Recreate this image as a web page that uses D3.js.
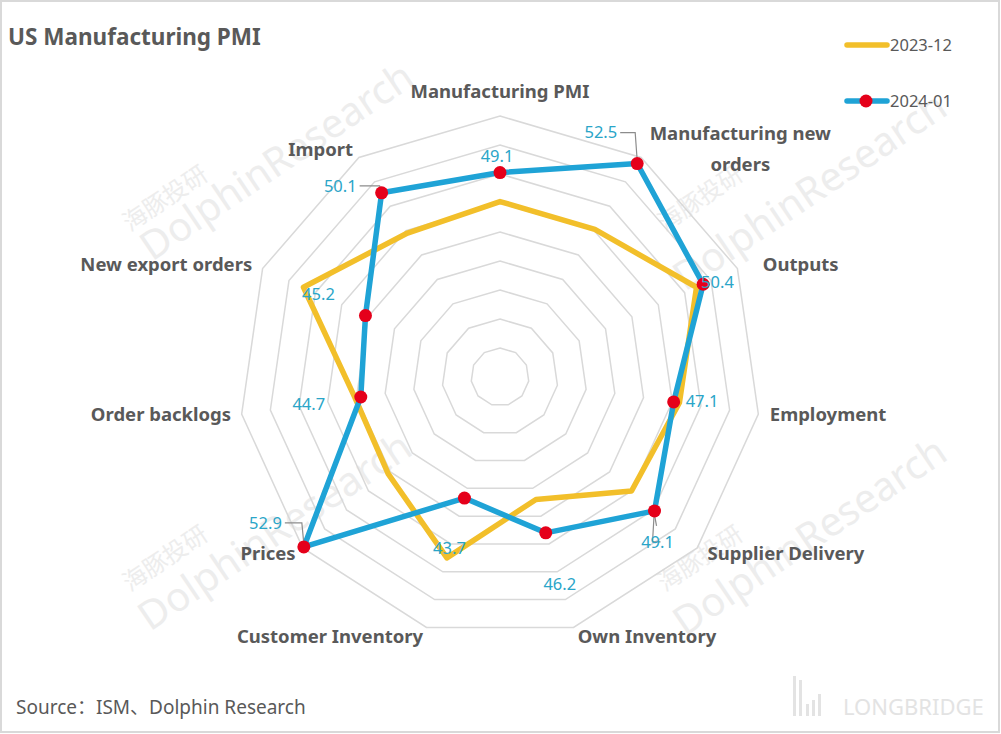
<!DOCTYPE html>
<html>
<head>
<meta charset="utf-8">
<script src="https://cdn.jsdelivr.net/npm/d3@7"></script>
<style>
  body { margin: 0; background: #fff; }
  svg { display: block; }
</style>
</head>
<body>
<svg id="chart" width="1001" height="734"></svg>
<script>
	// categories, clockwise from the top
	var categories = ["Manufacturing PMI", "Manufacturing new orders", "Outputs", "Employment",
		"Supplier Delivery", "Own Inventory", "Customer Inventory", "Prices",
		"Order backlogs", "New export orders", "Import"];
	var dec2023 = [47.1, 47.1, 49.9, 47.5, 47.0, 43.8, 48.0, 45.2, 45.1, 49.9, 46.8];
	var jan2024 = [49.1, 52.5, 50.4, 47.1, 49.1, 46.2, 43.7, 52.9, 44.7, 45.2, 50.1];
	var seriesNames = ["2023-12", "2024-01"];
	var ringTicks = [37, 39, 41, 43, 45, 47, 49, 51, 53];

	// layout only: nudges for category labels and value labels
	var catNudge = [[0, 6], [83, 17], [36, 8], [40, -4], [66, -14], [65, -20],
		[-88, -20], [-12, -14], [-51, -4], [-69, 8], [-22, 17]];
	var valNudge = [[-3, -16, "middle"], [-20, -31, "end"], [-2, -2, "start"], [12, -1, "start"],
		[3, 31, "middle"], [14, 51, "middle"], [-15, 50, "middle"], [-22, -24, "end"],
		[-52, 7, "middle"], [-47, -21, "middle"], [-25, -7, "end"]];
	var leaders = {1: true, 4: true, 7: true, 10: true};

	var svg = d3.select("#chart");
	var cx = 500, cy = 377, R = 261;
	var yellow = "#F2BF2A", blue = "#1FA3D6", red = "#E5001A";
	var fontMain = "'Microsoft YaHei', 'Noto Sans', 'Noto Sans CJK SC', sans-serif";

	// frame
	svg.append("rect")
		.attr("x", 1).attr("y", 1).attr("width", 998).attr("height", 731)
		.attr("fill", "#fff").attr("stroke", "#d9d9d9").attr("stroke-width", 2);

	// watermarks
	var marks = [[130, 232, 152, 262], [665, 232, 685, 292], [130, 592, 150, 632], [665, 592, 685, 637]];
	marks.forEach(function(m) {
		svg.append("text").attr("transform", "translate(" + m[0] + "," + m[1] + ") rotate(-34)")
			.attr("font-family", fontMain).attr("font-size", 24).attr("fill", "#ededed").text("海豚投研");
		svg.append("text").attr("transform", "translate(" + m[2] + "," + m[3] + ") rotate(-34)")
			.attr("font-family", fontMain).attr("font-size", 40).attr("fill", "#ededed").text("DolphinResearch");
	});

	var n = categories.length;
	var angle = function(i) { return i * 2 * Math.PI / n; };
	var r = d3.scaleLinear().domain([35, 53]).range([0, R]);
	var px = function(i, v) { return cx + r(v) * Math.sin(angle(i)); };
	var py = function(i, v) { return cy - r(v) * Math.cos(angle(i)); };

	var g = svg.append("g").attr("transform", "translate(" + cx + "," + cy + ")");

	// grid rings
	var ring = d3.lineRadial().curve(d3.curveLinearClosed);
	g.selectAll("path.ring").data(ringTicks).enter().append("path")
		.attr("class", "ring")
		.attr("d", function(t) { return ring(categories.map(function(c, i) { return [angle(i), r(t)]; })); })
		.attr("fill", "none").attr("stroke", "#d9d9d9").attr("stroke-width", 1.5);

	var line = d3.lineRadial()
		.angle(function(d, i) { return angle(i); })
		.radius(function(d) { return r(d); })
		.curve(d3.curveLinearClosed);

	g.append("path").attr("d", line(dec2023))
		.attr("fill", "none").attr("stroke", yellow).attr("stroke-width", 5.5).attr("stroke-linejoin", "round");
	g.append("path").attr("d", line(jan2024))
		.attr("fill", "none").attr("stroke", blue).attr("stroke-width", 5.5).attr("stroke-linejoin", "round");

	// leader lines
	jan2024.forEach(function(v, i) {
		if (!leaders[i]) return;
		var x = px(i, v), y = py(i, v);
		var nd = valNudge[i];
		var lx = x + nd[0] + 3, ly = y + nd[1];
		svg.append("path")
			.attr("d", "M" + lx + "," + ly + "H" + (x - 2) + "L" + x + "," + (y - 3))
			.attr("fill", "none").attr("stroke", "#8c8c8c").attr("stroke-width", 1.2);
	});
	// supplier delivery leader goes down from the point
	svg.append("line")
		.attr("x1", px(4, jan2024[4])).attr("y1", py(4, jan2024[4]) + 4)
		.attr("x2", px(4, jan2024[4]) + 2).attr("y2", py(4, jan2024[4]) + 15)
		.attr("stroke", "#8c8c8c").attr("stroke-width", 1.2);

	// markers
	svg.selectAll("circle.pt").data(jan2024).enter().append("circle")
		.attr("class", "pt")
		.attr("cx", function(d, i) { return px(i, d); })
		.attr("cy", function(d, i) { return py(i, d); })
		.attr("r", 6.5).attr("fill", red);

	// value labels
	svg.selectAll("text.val").data(jan2024).enter().append("text")
		.attr("class", "val")
		.attr("x", function(d, i) { return px(i, d) + valNudge[i][0]; })
		.attr("y", function(d, i) { return py(i, d) + valNudge[i][1]; })
		.attr("dy", "0.35em")
		.attr("text-anchor", function(d, i) { return valNudge[i][2]; })
		.attr("font-family", fontMain).attr("font-size", 16.5).attr("fill", "#2AA5C8")
		.text(function(d) { return d.toFixed(1); });

	// category labels
	var lr = R + 30;
	categories.forEach(function(c, i) {
		var x = cx + lr * Math.sin(angle(i)) + catNudge[i][0];
		var y = cy - lr * Math.cos(angle(i)) + catNudge[i][1];
		var t = svg.append("text")
			.attr("x", x).attr("y", y)
			.attr("text-anchor", "middle")
			.attr("font-family", fontMain).attr("font-size", 18.5).attr("font-weight", "bold")
			.attr("fill", "#595959");
		if (i === 1) {
			t.append("tspan").attr("x", x).attr("dy", "-0.5em").text("Manufacturing new");
			t.append("tspan").attr("x", x).attr("dy", "1.68em").text("orders");
		} else {
			t.attr("dy", "0.35em").text(c);
		}
	});

	// title
	svg.append("text").attr("x", 8).attr("y", 45)
		.attr("font-family", fontMain).attr("font-size", 22.5).attr("font-weight", "bold")
		.attr("fill", "#595959").text("US Manufacturing PMI");

	// legend
	var leg = svg.append("g");
	[[yellow, false], [blue, true]].forEach(function(s, k) {
		var ly = 45 + k * 56;
		leg.append("line").attr("x1", 847).attr("x2", 887).attr("y1", ly).attr("y2", ly)
			.attr("stroke", s[0]).attr("stroke-width", 5.5).attr("stroke-linecap", "round");
		if (s[1]) leg.append("circle").attr("cx", 866).attr("cy", ly).attr("r", 6.5).attr("fill", red);
		leg.append("text").attr("x", 890).attr("y", ly).attr("dy", "0.35em")
			.attr("font-family", fontMain).attr("font-size", 16.5).attr("fill", "#595959")
			.text(seriesNames[k]);
	});

	// source
	svg.append("text").attr("x", 16).attr("y", 714)
		.attr("font-family", fontMain).attr("font-size", 19).attr("fill", "#595959")
		.text("Source：ISM、Dolphin Research");

	// longbridge mark
	var lb = svg.append("g").attr("fill", "#e3e3e3");
	[[793, 676, 3, 40], [799, 680, 3, 36], [806, 704, 3, 12], [812, 700, 3, 16], [818, 694, 3, 22]]
		.forEach(function(b) { lb.append("rect").attr("x", b[0]).attr("y", b[1]).attr("width", b[2]).attr("height", b[3]); });
	lb.append("text").attr("x", 843).attr("y", 715)
		.attr("font-family", fontMain).attr("font-size", 22).text("LONGBRIDGE");
</script>
</body>
</html>
